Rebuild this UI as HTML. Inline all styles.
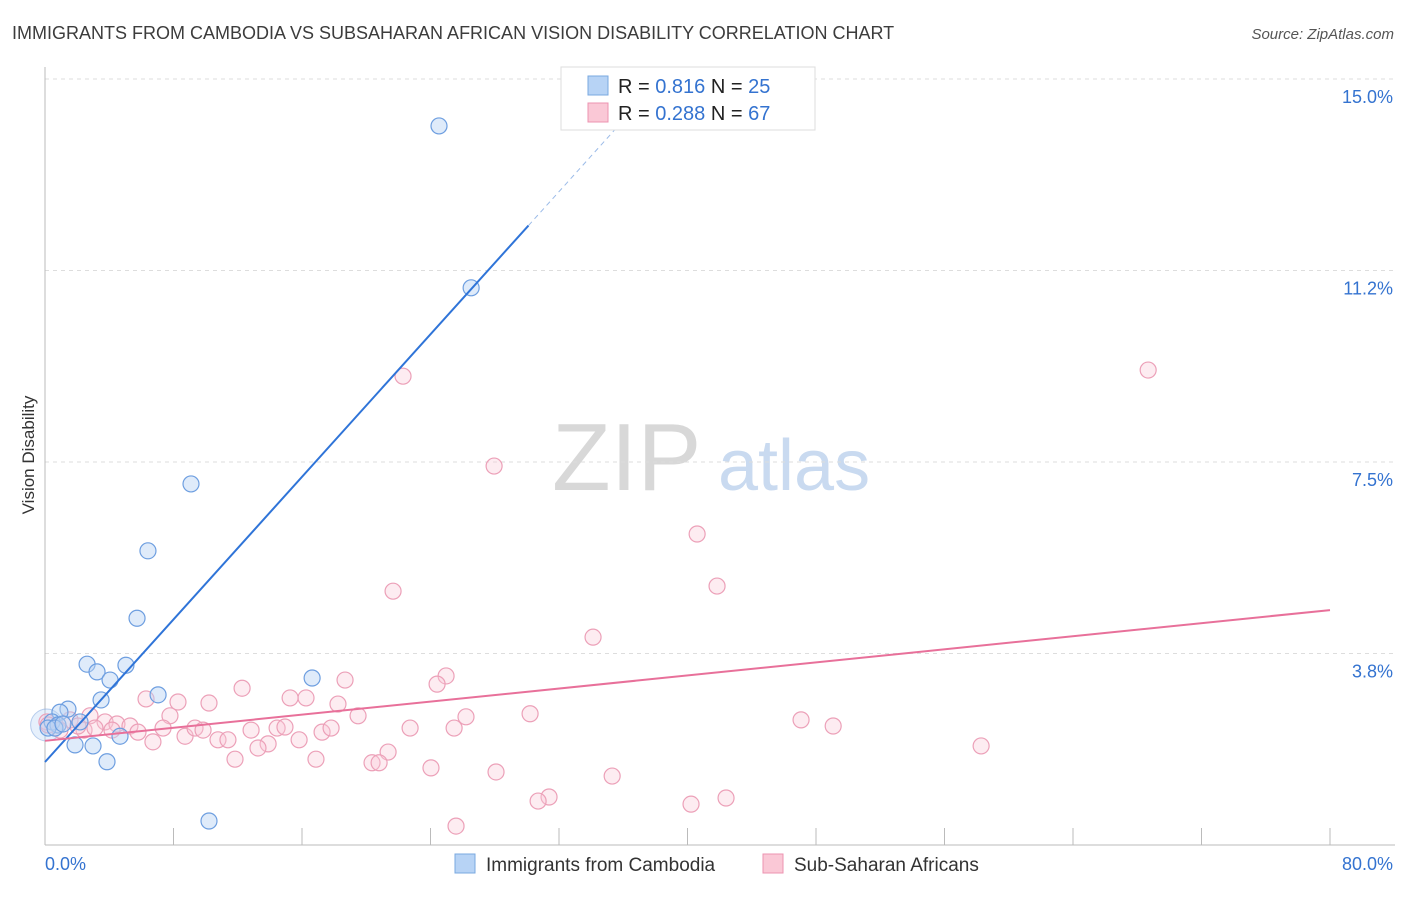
<!DOCTYPE html>
<html><head><meta charset="utf-8"><style>
body{margin:0;background:#fff;font-family:"Liberation Sans",sans-serif;}
svg text{font-family:"Liberation Sans",sans-serif;}
</style></head><body>
<svg id="chart" width="1406" height="892" xmlns="http://www.w3.org/2000/svg">
<text x="12" y="39" font-size="18" fill="#3c3c3c">IMMIGRANTS FROM CAMBODIA VS SUBSAHARAN AFRICAN VISION DISABILITY CORRELATION CHART</text>
<text x="1394" y="39" font-size="15" fill="#555" text-anchor="end" font-style="italic">Source: ZipAtlas.com</text>
<g>
<text x="552" y="490" font-size="96" fill="#d8d8d8" font-family="Liberation Serif,serif">ZIP</text>
<text x="718" y="490" font-size="72" fill="#c9daf0">atlas</text>
</g>
<text transform="translate(34,455) rotate(-90)" font-size="17" fill="#333" text-anchor="middle">Vision Disability</text>
<g id="grid"></g><g id="marks"></g>
<g>
<rect x="561" y="67" width="254" height="63" fill="#fff" stroke="#ddd"/>
<rect x="588" y="76" width="20" height="19" fill="#b7d3f5" stroke="#7aa8e0"/>
<rect x="588" y="103" width="20" height="19" fill="#fac8d6" stroke="#ec93b0"/>
<text x="618" y="93" font-size="20" fill="#222">R = <tspan fill="#3473d0">0.816</tspan>   N = <tspan fill="#3473d0">25</tspan></text>
<text x="618" y="120" font-size="20" fill="#222">R = <tspan fill="#3473d0">0.288</tspan>   N = <tspan fill="#3473d0">67</tspan></text>
</g>
<g>
<rect x="455" y="854" width="20" height="19" fill="#b7d3f5" stroke="#7aa8e0"/>
<text x="486" y="871" font-size="19" fill="#333">Immigrants from Cambodia</text>
<rect x="763" y="854" width="20" height="19" fill="#fac8d6" stroke="#ec93b0"/>
<text x="794" y="871" font-size="19" fill="#333">Sub-Saharan Africans</text>
</g>
</svg>
<script>
const yTicks=[15.0,11.25,7.5,3.75];
const yTickLabels=["15.0%","11.2%","7.5%","3.8%"];
const xTickLabels=["0.0%","80.0%"];
const blueX=[24.53,26.53,9.09,6.41,5.73,2.62,5.04,3.24,4.05,7.04,16.63,3.49,1.43,0.93,0.44,0.81,2.18,1.87,2.99,4.67,3.86,10.21,0.19,0.62,1.12];
const blueY=[14.08,10.91,7.07,5.76,4.44,3.54,3.52,3.39,3.23,2.94,3.27,2.84,2.66,2.60,2.41,2.35,2.41,1.96,1.94,2.13,1.63,0.47,2.29,2.29,2.37];
const pinkX=[22.29,68.68,27.96,40.60,21.67,41.84,34.12,24.97,24.41,18.68,12.27,6.29,8.28,10.21,15.26,16.25,18.24,7.78,19.49,26.21,30.20,47.07,49.07,2.80,3.74,4.48,5.29,5.79,7.35,8.72,9.34,9.84,10.77,11.39,12.83,14.45,14.94,15.82,17.25,17.81,22.73,25.47,13.89,13.26,6.72,4.17,2.43,58.28,21.36,11.83,16.87,20.36,20.80,24.03,28.08,35.31,31.38,30.70,40.22,42.40,25.59,1.56,2.05,3.11,0.93,0.12,0.2];
const pinkY=[9.18,9.30,7.42,6.09,4.97,5.07,4.07,3.31,3.15,3.23,3.07,2.86,2.80,2.78,2.88,2.88,2.76,2.53,2.53,2.51,2.57,2.45,2.33,2.53,2.41,2.37,2.33,2.21,2.29,2.13,2.29,2.25,2.06,2.06,2.25,2.29,2.31,2.06,2.21,2.29,2.29,2.29,1.98,1.90,2.02,2.25,2.25,1.94,1.82,1.68,1.68,1.61,1.61,1.51,1.43,1.35,0.94,0.86,0.80,0.92,0.37,2.45,2.33,2.29,2.25,2.41,2.35];
const blueFit=[1.625,0.349];
const pinkFit=[2.04,0.032];
const NS="http://www.w3.org/2000/svg";
const X=v=>45+v/80*1285, Y=v=>845-v*51.07;
const grid=document.getElementById('grid'), marks=document.getElementById('marks');
function mk(tag,attrs,parent){const e=document.createElementNS(NS,tag);for(const k in attrs)e.setAttribute(k,attrs[k]);parent.appendChild(e);return e;}
yTicks.forEach((t,i)=>{
 const l=mk('line',{x1:45,x2:1395,y1:Y(t),y2:Y(t),stroke:'#ddd','stroke-dasharray':'4,4'},grid);
 
 
 const tx=mk('text',{x:1393,y:Y(t)+24,'font-size':18,fill:'#3473d0','text-anchor':'end'},grid);
 tx.textContent=yTickLabels[i];
 
 
});
const ax=mk('line',{x1:45,x2:1395,y1:845,y2:845,stroke:'#bbb'},grid);


const ay=mk('line',{x1:45,x2:45,y1:67,y2:845,stroke:'#bbb'},grid);


for(let i=0;i<=10;i++){
 const tk=mk('line',{x1:X(i*8),x2:X(i*8),y1:828,y2:845,stroke:'#bbb'},grid);
 
 
}
xTickLabels.forEach((s,i)=>{
 const tx=mk('text',{x:i?1393:45,y:870,'font-size':18,fill:'#3473d0','text-anchor':i?'end':'start'},grid);
 tx.textContent=s;
 
 
});
const bg=mk('circle',{cx:X(0.1),cy:Y(2.35),r:16,fill:'rgba(183,211,245,0.35)',stroke:'rgba(120,160,220,0.5)'},marks);


pinkX.forEach((v,i)=>{
 const c=mk('circle',{cx:X(v),cy:Y(pinkY[i]),r:8,fill:'rgba(250,200,214,0.35)',stroke:'#eca0b8','stroke-width':1.2},marks);
 
 
});
blueX.forEach((v,i)=>{
 const c=mk('circle',{cx:X(v),cy:Y(blueY[i]),r:8,fill:'rgba(183,211,245,0.45)',stroke:'#6d9ee0','stroke-width':1.2},marks);
 
 
});
const bl=mk('line',{x1:X(0),y1:Y(blueFit[0]),x2:X(30.1),y2:Y(blueFit[0]+blueFit[1]*30.1),stroke:'#2f74d8','stroke-width':2},marks);


const bd=mk('line',{x1:X(30.1),y1:Y(blueFit[0]+blueFit[1]*30.1),x2:X(37.2),y2:Y(blueFit[0]+blueFit[1]*37.2),stroke:'#9bbbe8','stroke-width':1,'stroke-dasharray':'5,4'},marks);


const pl=mk('line',{x1:X(0),y1:Y(pinkFit[0]),x2:X(80),y2:Y(pinkFit[0]+pinkFit[1]*80),stroke:'#e8709a','stroke-width':2},marks);


</script>
</body></html>
